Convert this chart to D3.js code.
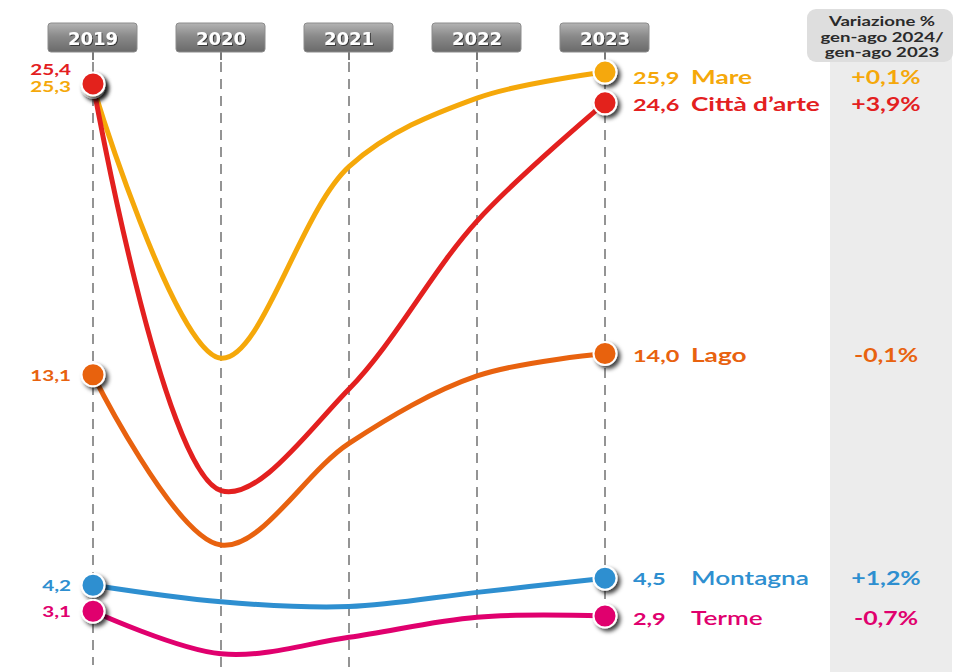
<!DOCTYPE html>
<html>
<head>
<meta charset="utf-8">
<script src="https://cdn.jsdelivr.net/npm/d3@7"></script>
<style>
  html, body { margin: 0; padding: 0; background: #fff; }
  svg { display: block; }
</style>
</head>
<body>
<svg id="chart" width="968" height="672"></svg>
<script>
// Presenze per tipologia di località, 2019-2023 (milioni)
const years = ["2019", "2020", "2021", "2022", "2023"];
const seriesNames = ["Montagna", "Terme", "Lago", "Mare", "Città d’arte"];
const montagna = [4.2, 3.5, 3.3, 3.9, 4.5];
const terme    = [3.1, 1.3, 2.0, 2.85, 2.9];
const lago     = [13.1, 5.9, 10.2, 13.05, 14.0];
const mare     = [25.3, 13.8, 21.9, 24.8, 25.9];
const cittaArte = [25.4, 8.2, 12.5, 19.6, 24.6];
const variazione = ["+1,2%", "-0,7%", "-0,1%", "+0,1%", "+3,9%"];
const columnTitle = ["Variazione %", "gen-ago 2024/", "gen-ago 2023"];

const seriesValues = [montagna, terme, lago, mare, cittaArte];
const colors = ["#2e8fd0", "#e0006e", "#e8620f", "#f5a80a", "#e3201f"];

const fmt = v => d3.format(".1f")(v).replace(".", ",");
const FONT = "Lato, 'Open Sans', sans-serif";
const STRETCH = 1.38; // wide lettering for the value labels

const svg = d3.select("#chart");
const defs = svg.append("defs");

const shadow = defs.append("filter").attr("id", "shadow")
  .attr("x", "-50%").attr("y", "-50%").attr("width", "200%").attr("height", "200%");
shadow.append("feDropShadow").attr("dx", 3).attr("dy", 3)
  .attr("stdDeviation", 2).attr("flood-color", "#000").attr("flood-opacity", 0.75);

const textShadow = defs.append("filter").attr("id", "tshadow")
  .attr("x", "-20%").attr("y", "-20%").attr("width", "140%").attr("height", "140%");
textShadow.append("feDropShadow").attr("dx", 1).attr("dy", 1)
  .attr("stdDeviation", 0.6).attr("flood-color", "#333").attr("flood-opacity", 0.9);

const grad = defs.append("linearGradient").attr("id", "boxGrad")
  .attr("x1", 0).attr("y1", 0).attr("x2", 0).attr("y2", 1);
grad.append("stop").attr("offset", "0%").attr("stop-color", "#b4b4b4");
grad.append("stop").attr("offset", "45%").attr("stop-color", "#8a8a8a");
grad.append("stop").attr("offset", "100%").attr("stop-color", "#6a6a6a");

// Scales
const x = d3.scalePoint().domain(years).range([93, 605]);
const y = d3.scaleLinear().domain([0, 26]).range([684.6, 69.7]);

// Text helper: anchored at (tx, ty), stretched horizontally
function label(sel, tx, ty, anchor, size, fill, weight = 700) {
  const g = sel.append("g").attr("transform", `translate(${tx},${ty}) scale(${STRETCH},1)`);
  return g.append("text").attr("text-anchor", anchor)
    .attr("font-family", FONT).attr("font-weight", weight)
    .attr("font-size", size).attr("fill", fill);
}

// Side column with the year-on-year change
const col = svg.append("g");
col.append("rect").attr("x", 830).attr("y", 40).attr("width", 122).attr("height", 640)
  .attr("rx", 8).attr("fill", "#ececec");
col.append("rect").attr("x", 807).attr("y", 9).attr("width", 146).attr("height", 53)
  .attr("rx", 9).attr("fill", "#dedede");
columnTitle.forEach((t, i) => {
  label(col, 882, 26 + i * 15.5, "middle", 13.5, "#2a2a2a").text(t);
});

// Year headers and dashed guides
const lineEnds = [665, 672, 672, 628, 628];
const head = svg.append("g").selectAll("g").data(years).join("g")
  .attr("transform", d => `translate(${x(d)},0)`);
head.append("line").attr("x1", 0).attr("x2", 0)
  .attr("y1", 62).attr("y2", (d, i) => lineEnds[i])
  .attr("stroke", "#7a7a7a").attr("stroke-width", 1.6).attr("stroke-dasharray", "10,7");
head.append("line").attr("x1", 0).attr("x2", 0).attr("y1", 50).attr("y2", 60)
  .attr("stroke", "#7a7a7a").attr("stroke-width", 2);
head.append("rect").attr("x", -45).attr("y", 23).attr("width", 89).attr("height", 29)
  .attr("rx", 3).attr("fill", "url(#boxGrad)").attr("stroke", "#8c8c8c").attr("stroke-width", 1);
head.append("text").attr("text-anchor", "middle").attr("y", 45)
  .attr("font-family", "'DejaVu Sans', Verdana, sans-serif").attr("font-weight", 700)
  .attr("font-size", 18).attr("fill", "#fff").attr("filter", "url(#tshadow)")
  .text(d => d);

// Smoothed lines
const line = d3.line()
  .x((d, i) => x(years[i]))
  .y(d => y(d))
  .curve(d3.curveCatmullRom.alpha(0.5));

svg.append("g").selectAll("path").data(seriesValues).join("path")
  .attr("d", d => line(d))
  .attr("fill", "none")
  .attr("stroke", (d, i) => colors[i])
  .attr("stroke-width", 5)
  .attr("stroke-linecap", "round");

// End markers
const markers = [];
seriesValues.forEach((vals, i) => {
  markers.push({ year: years[0], v: vals[0], c: colors[i] });
  markers.push({ year: years[years.length - 1], v: vals[vals.length - 1], c: colors[i] });
});
svg.append("g").selectAll("circle").data(markers).join("circle")
  .attr("cx", d => x(d.year)).attr("cy", d => y(d.v)).attr("r", 11.5)
  .attr("fill", d => d.c).attr("stroke", "#fff").attr("stroke-width", 2)
  .attr("filter", "url(#shadow)");

// Starting values (left)
const leftG = svg.append("g");
const leftShift = [0, 0, 0, 0, -15];
seriesValues.forEach((vals, i) => {
  label(leftG, 71, y(vals[0]) + 6 + leftShift[i], "end", 15, colors[i]).text(fmt(vals[0]));
});

// Final values, names and change (right)
const rightG = svg.append("g");
const rightShift = [0, 2, 1, 5, 1];
seriesValues.forEach((vals, i) => {
  const v = vals[vals.length - 1];
  const ty = y(v) + 7 + rightShift[i];
  label(rightG, 633, ty, "start", 17, colors[i]).text(fmt(v));
  label(rightG, 691, ty, "start", 19, colors[i], i < 2 ? 600 : 700).text(seriesNames[i]);
  label(rightG, 886, ty, "middle", 18, colors[i]).text(variazione[i]);
});
</script>
</body>
</html>
